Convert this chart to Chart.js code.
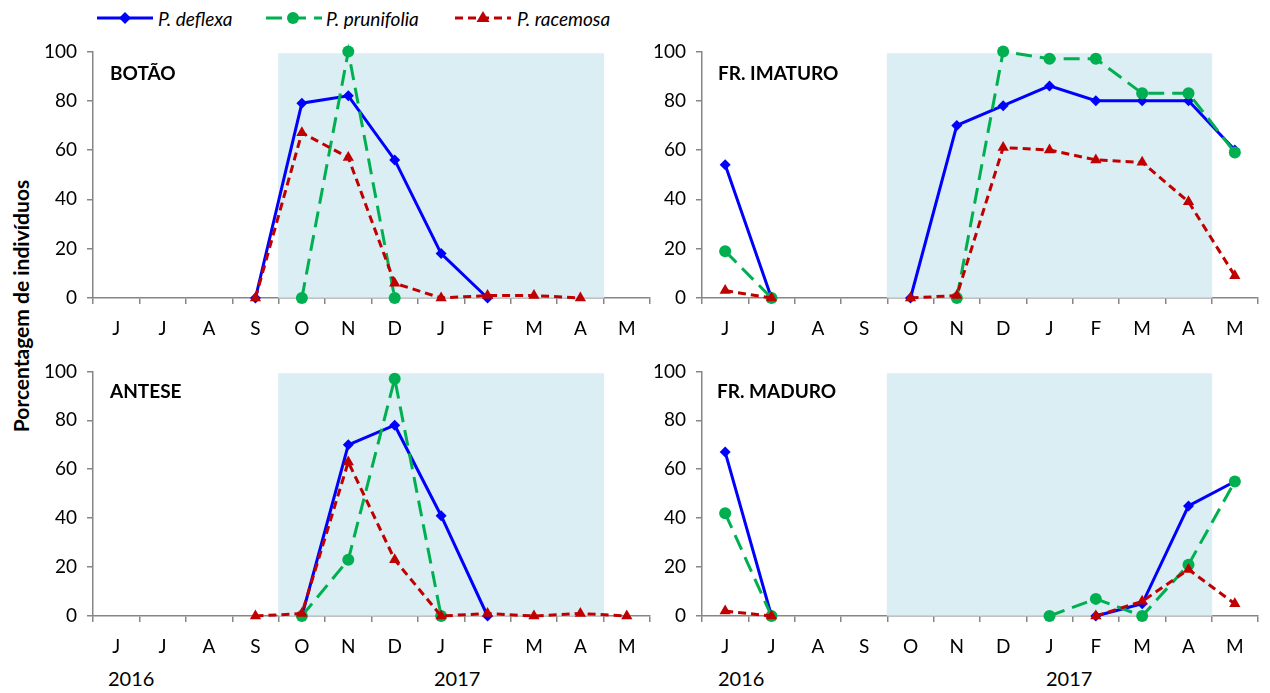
<!DOCTYPE html>
<html>
<head>
<meta charset="utf-8">
<script src="https://cdn.jsdelivr.net/npm/chart.js@4.4.0/dist/chart.umd.min.js"></script>
<style>
  body { margin: 0; width: 1270px; height: 693px; background: #fff; position: relative; overflow: hidden; font-family: Lato, sans-serif; color: #000; }
  .box { position: absolute; }
  .txt { position: absolute; white-space: nowrap; line-height: 1; }
  .title { font-weight: bold; font-size: 19px; }
  .year { font-size: 20px; }
  .leg { font-style: italic; font-size: 19px; }
  #ylabel { position: absolute; left: 20px; top: 306px; transform: translate(-50%, -50%) rotate(-90deg); font-weight: bold; font-size: 21px; white-space: nowrap; line-height: 1; }
</style>
</head>
<body>

<!-- legend -->
<svg class="box" style="left:97px; top:8px" width="56" height="20">
  <line x1="0" y1="10" x2="56" y2="10" stroke="#0000ff" stroke-width="3"/>
  <polygon points="28,4 34,10 28,16 22,10" fill="#0000ff"/>
</svg>
<div class="txt leg" style="left:158px; top:9px">P. deflexa</div>
<svg class="box" style="left:266px; top:8px" width="56" height="20">
  <line x1="0" y1="10" x2="56" y2="10" stroke="#00b050" stroke-width="3" stroke-dasharray="16 8"/>
  <circle cx="27" cy="10" r="6" fill="#00b050"/>
</svg>
<div class="txt leg" style="left:326px; top:9px">P. prunifolia</div>
<svg class="box" style="left:455px; top:8px" width="56" height="20">
  <line x1="0" y1="10" x2="56" y2="10" stroke="#c00000" stroke-width="3" stroke-dasharray="8 5"/>
  <polygon points="28,3 34.5,14 21.5,14" fill="#c00000"/>
</svg>
<div class="txt leg" style="left:517px; top:9px">P. racemosa</div>

<div id="ylabel">Porcentagem de indivíduos</div>

<div class="box" style="left:0px; top:30px; width:660px; height:313px"><canvas id="botao"></canvas></div>
<div class="box" style="left:640px; top:30px; width:630px; height:313px"><canvas id="imaturo"></canvas></div>
<div class="box" style="left:0px; top:350px; width:660px; height:311px"><canvas id="antese"></canvas></div>
<div class="box" style="left:640px; top:350px; width:630px; height:311px"><canvas id="maduro"></canvas></div>

<div class="txt title" style="left:110px; top:63px">BOTÃO</div>
<div class="txt title" style="left:718px; top:63px">FR. IMATURO</div>
<div class="txt title" style="left:110px; top:381px">ANTESE</div>
<div class="txt title" style="left:717px; top:381px">FR. MADURO</div>

<div class="txt year" style="left:108px; top:668px">2016</div>
<div class="txt year" style="left:434px; top:668px">2017</div>
<div class="txt year" style="left:718px; top:668px">2016</div>
<div class="txt year" style="left:1046px; top:668px">2017</div>

<script>
// months from June 2016 to May 2017
const months = ['J', 'J', 'A', 'S', 'O', 'N', 'D', 'J', 'F', 'M', 'A', 'M'];
// shaded season (O to A)
const season = [null, null, null, null, 99, 99, 99, 99, 99, 99, 99, null];

// BOTÃO
const botaoDeflexa    = [null, null, null, 0, 79, 82, 56, 18, 0, null, null, null];
const botaoPrunifolia = [null, null, null, null, 0, 100, 0, null, null, null, null, null];
const botaoRacemosa   = [null, null, null, 0, 67, 57, 6, 0, 1, 1, 0, null];

// FR. IMATURO
const imaturoDeflexa    = [54, 0, null, null, 0, 70, 78, 86, 80, 80, 80, 60];
const imaturoPrunifolia = [19, 0, null, null, null, 0, 100, 97, 97, 83, 83, 59];
const imaturoRacemosa   = [3, 0, null, null, 0, 1, 61, 60, 56, 55, 39, 9];

// ANTESE
const anteseDeflexa    = [null, null, null, null, 0, 70, 78, 41, 0, null, null, null];
const antesePrunifolia = [null, null, null, null, 0, 23, 97, 0, null, null, null, null];
const anteseRacemosa   = [null, null, null, 0, 1, 63, 23, 0, 1, 0, 1, 0];

// FR. MADURO
const maduroDeflexa    = [67, 0, null, null, null, null, null, null, 0, 5, 45, 55];
const maduroPrunifolia = [42, 0, null, null, null, null, null, 0, 7, 0, 21, 55];
const maduroRacemosa   = [2, 0, null, null, null, null, null, null, 0, 6, 19, 5];

const BLUE = '#0000ff', GREEN = '#00b050', RED = '#c00000', AXIS = '#868686';
const tickFont = { family: 'Lato', size: 19 };

function makeChart(id, yWidth, padTop, padRight, deflexa, prunifolia, racemosa) {
  return new Chart(document.getElementById(id), {
    type: 'line',
    data: {
      labels: months,
      datasets: [
        { label: 'P. deflexa', data: deflexa, borderColor: BLUE, backgroundColor: BLUE, borderWidth: 3,
          pointStyle: 'rectRot', pointRadius: 5.5, pointHoverRadius: 5.5, pointBorderWidth: 0, clip: false, order: 3 },
        { label: 'P. prunifolia', data: prunifolia, borderColor: GREEN, backgroundColor: GREEN, borderWidth: 3,
          borderDash: [16, 8], pointStyle: 'circle', pointRadius: 6, pointHoverRadius: 6, pointBorderWidth: 0, clip: false, order: 2 },
        { label: 'P. racemosa', data: racemosa, borderColor: RED, backgroundColor: RED, borderWidth: 3,
          borderDash: [8, 5], pointStyle: 'triangle', pointRadius: 6.5, pointHoverRadius: 6.5, pointBorderWidth: 0, clip: false, order: 1 },
        { type: 'bar', label: 'season', data: season, backgroundColor: '#daeef3', borderWidth: 0,
          barPercentage: 1, categoryPercentage: 1, inflateAmount: 0.5, order: 10 }
      ]
    },
    options: {
      responsive: true,
      maintainAspectRatio: false,
      animation: false,
      layout: { padding: { top: padTop, right: padRight, left: 0, bottom: 0 } },
      plugins: { legend: { display: false }, tooltip: { enabled: false } },
      elements: { line: { tension: 0 } },
      scales: {
        x: {
          offset: true,
          grid: { offset: true, drawOnChartArea: false, tickLength: 6, color: AXIS, lineWidth: 1.5 },
          border: { color: AXIS, width: 1.5 },
          ticks: { color: '#000', font: tickFont, padding: 13, maxRotation: 0, autoSkip: false },
          afterFit: s => { s.height = 45; }
        },
        y: {
          min: 0, max: 100,
          grid: { drawOnChartArea: false, tickLength: 6, color: AXIS, lineWidth: 1.5 },
          border: { color: AXIS, width: 1.5 },
          ticks: { stepSize: 20, color: '#000', font: tickFont, padding: 10 },
          afterFit: s => { s.width = yWidth; }
        }
      }
    }
  });
}

makeChart('botao', 93, 20, 10, botaoDeflexa, botaoPrunifolia, botaoRacemosa);
makeChart('imaturo', 62, 20, 12, imaturoDeflexa, imaturoPrunifolia, imaturoRacemosa);
makeChart('antese', 93, 17, 10, anteseDeflexa, antesePrunifolia, anteseRacemosa);
makeChart('maduro', 62, 17, 12, maduroDeflexa, maduroPrunifolia, maduroRacemosa);
</script>
</body>
</html>
